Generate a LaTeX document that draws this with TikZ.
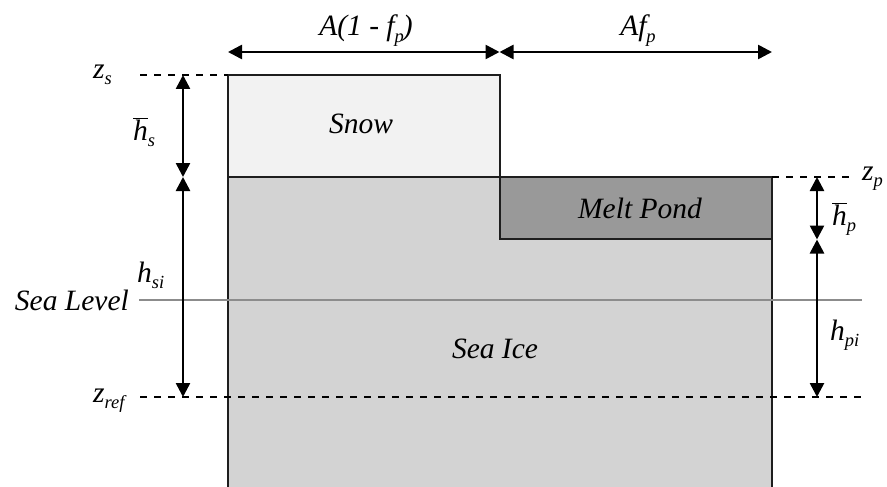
\documentclass[tikz,border=0pt]{standalone}
\usepackage{fontspec}
\setmainfont{Liberation Serif}
\usetikzlibrary{arrows.meta}
\definecolor{snowc}{HTML}{F2F2F2}
\definecolor{icec}{HTML}{D3D3D3}
\definecolor{pondc}{HTML}{999999}
\definecolor{edgec}{HTML}{1E1E1E}
\definecolor{slc}{HTML}{8C8C8C}
\newcommand\lab[2]{#1\raisebox{-0.5ex}{\fontsize{18.5}{18.5}\selectfont #2}}
\newcommand\barlab[2]{$\overline{\mbox{\itshape #1}}$\raisebox{-0.5ex}{\fontsize{18.5}{18.5}\selectfont #2}}
\tikzset{
  box/.style={draw=edgec,line width=2.6pt},
  dim/.style={line width=2.6pt,{Triangle[length=14pt,width=14pt]}-{Triangle[length=14pt,width=14pt]}},
  lvl/.style={line width=2.6pt,dash pattern=on 7pt off 7pt},
  txt/.style={font=\fontsize{29.5}{29.5}\selectfont\itshape,inner sep=0pt,anchor=base},
}
\begin{document}
\begin{tikzpicture}[x=1pt,y=-1pt]
\useasboundingbox (0,0) rectangle (887,487);
\clip (0,0) rectangle (887,487);
\fill[white] (0,0) rectangle (887,487);
% shapes
\draw[box,fill=icec] (228,177) rectangle (772,500);
\draw[box,fill=snowc] (228,75) rectangle (500,177);
\draw[box,fill=pondc] (500,177) rectangle (772,239);
% coordinates
\coordinate (tl) at (228,52);
\coordinate (tm) at (499.5,52);
\coordinate (tr) at (772,52);
\coordinate (ls) at (183,75);
\coordinate (lm) at (183,177);
\coordinate (lb) at (183,397);
\coordinate (rs) at (817,177);
\coordinate (rm) at (817,239.5);
\coordinate (rb) at (817,397);
\coordinate (zsL) at (140,75);
\coordinate (zsR) at (228,75);
\coordinate (zpL) at (772,177);
\coordinate (zpR) at (856,177);
\coordinate (zrL) at (140,397);
\coordinate (zrR) at (862,397);
\coordinate (slL) at (139,300);
\coordinate (slR) at (862,300);
% levels
\draw[slc,line width=2pt] (slL) -- (slR);
\draw[lvl] (zsL) -- (zsR);
\draw[lvl] (zpL) -- (zpR);
\draw[lvl] (zrL) -- (zrR);
% dimension arrows
\draw[dim] (tl) -- (tm);
\draw[dim] (tm) -- (tr);
\draw[dim] (ls) -- (lm);
\draw[dim] (lm) -- (lb);
\draw[dim] (rs) -- (rm);
\draw[dim] (rm) -- (rb);
% texts
\node[txt] (snow) at (361,133) {Snow};
\node[txt] (pond) at (640,218) {Melt Pond};
\node[txt] (ice) at (495,358) {Sea Ice};
\node[txt,anchor=base east] (sl) at (129,310) {Sea Level};
\node[txt] (a1) at (366,36) {\lab{A(1 - f}{p}{\kern-1pt})};
\node[txt] (a2) at (638,36) {\lab{Af}{p}};
\node[txt,anchor=base west] (zs) at (93,78) {\lab{z}{s}};
\node[txt,anchor=base west] (hs) at (133,140) {\barlab{h}{s}};
\node[txt,anchor=base west] (hsi) at (137,282) {\lab{h}{si}};
\node[txt,anchor=base west] (zr) at (93,402) {\lab{z}{ref}};
\node[txt,anchor=base west] (zp) at (862,180) {\lab{z}{p}};
\node[txt,anchor=base west] (hp) at (832,225) {\barlab{h}{p}};
\node[txt,anchor=base west] (hpi) at (830,340) {\lab{h}{pi}};
\end{tikzpicture}
\end{document}
